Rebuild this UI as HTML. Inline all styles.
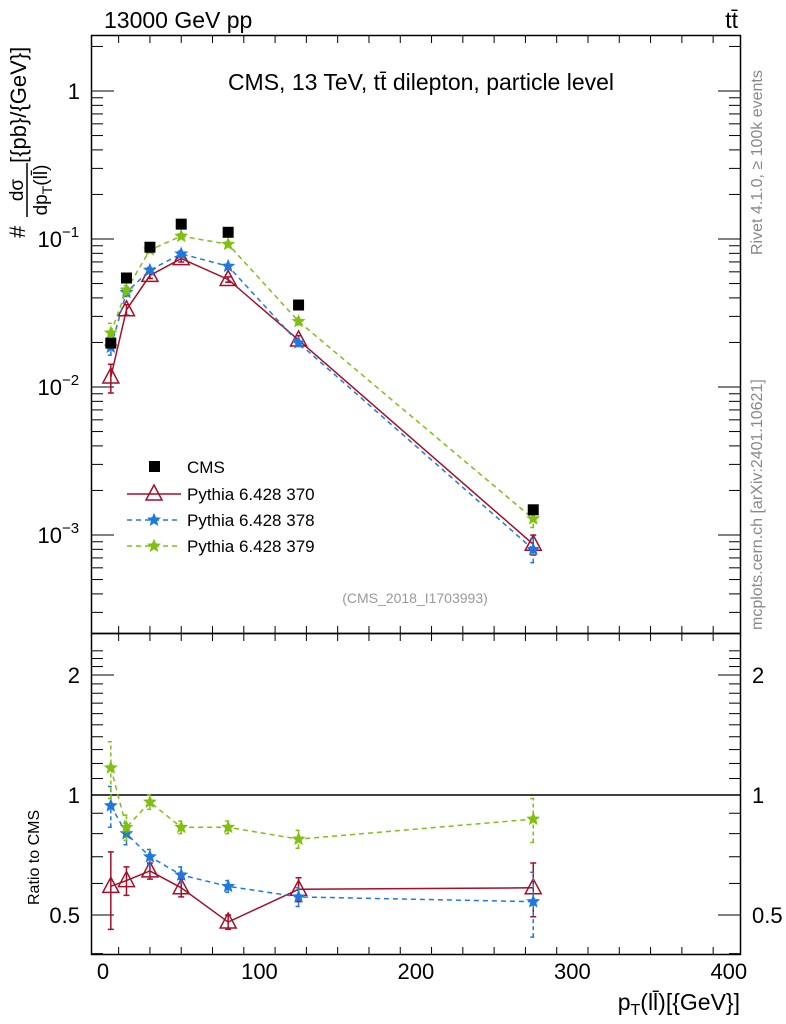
<!DOCTYPE html>
<html><head><meta charset="utf-8"><style>
html,body{margin:0;padding:0;background:#fff;}
svg{display:block;font-family:"Liberation Sans",sans-serif;}
</style></head><body>
<svg id="chart" width="786" height="1024" viewBox="0 0 786 1024" xmlns="http://www.w3.org/2000/svg">
<g id="frames">
<rect x="91.5" y="35.5" width="649" height="598" fill="none" stroke="#000" stroke-width="1.5"/>
<rect x="91.5" y="633.5" width="649" height="321" fill="none" stroke="#000" stroke-width="1.5"/>
</g>
<text x="104" y="28" font-size="23">13000 GeV pp</text>
<text x="738" y="28" font-size="23" text-anchor="end">tt̄</text>
<text x="421" y="90" font-size="23" text-anchor="middle">CMS, 13 TeV, tt̄ dilepton, particle level</text>
<text x="415" y="603" font-size="14" fill="#999" text-anchor="middle">(CMS_2018_I1703993)</text>
<text transform="translate(762,255) rotate(-90)" font-size="16" fill="#888">Rivet 4.1.0, ≥ 100k events</text>
<text transform="translate(762,630) rotate(-90)" font-size="16" fill="#888">mcplots.cern.ch [arXiv:2401.10621]</text>
<g font-size="22">
<text transform="translate(25,238) rotate(-90)">#</text>
<text transform="translate(23,190) rotate(-90)" font-size="19" text-anchor="middle">dσ</text>
<line x1="27" y1="217" x2="27" y2="163" stroke="#000" stroke-width="1.5"/>
<text transform="translate(47,190) rotate(-90)" font-size="19" text-anchor="middle">dp<tspan font-size="14" dy="5">T</tspan><tspan dy="-5">(ll̄)</tspan></text>
<text transform="translate(26,163) rotate(-90)">[{pb}/{GeV}]</text>
</g>
<text transform="translate(39,905) rotate(-90)" font-size="16">Ratio to CMS</text>
<text x="740" y="1010" font-size="23" text-anchor="end">p<tspan font-size="16" dy="5">T</tspan><tspan dy="-5">(ll̄)[{GeV}]</tspan></text>
<g id="axes"></g>
<g id="marks"></g>
<g id="legend"></g>
</svg>
<script>
const xBins = [5, 15, 30, 50, 80, 125, 275];
const cmsValues = [0.0198, 0.0545, 0.0880, 0.126, 0.111, 0.0358, 0.00148];
const ratio370 = [0.59, 0.61, 0.645, 0.585, 0.48, 0.58, 0.585];
const ratio370Err = [0.13, 0.05, 0.03, 0.03, 0.02, 0.04, 0.09];
const ratio378 = [0.94, 0.80, 0.70, 0.63, 0.59, 0.555, 0.54];
const ratio378Err = [0.11, 0.05, 0.03, 0.03, 0.02, 0.03, 0.10];
const ratio379 = [1.17, 0.83, 0.96, 0.83, 0.83, 0.775, 0.87];
const ratio379Err = [0.19, 0.06, 0.04, 0.03, 0.03, 0.04, 0.11];
const xTicks = [0, 100, 200, 300, 400];
const mainYTicks = [1, 0.1, 0.01, 0.001];
const mainYLabels = ["1", "10", "10", "10"];
const mainYExps = ["", "−1", "−2", "−3"];
const ratioYTicks = [0.5, 1, 2];
const ratioYLabels = ["0.5", "1", "2"];

const NS = "http://www.w3.org/2000/svg";
const X = v => 103 + v * 1.5645;
const Ym = v => 91 - Math.log10(v) * 148;
const Yr = v => 795 - Math.log10(v) * 398.6;
function mk(tag, attrs, parent) { const e = document.createElementNS(NS, tag); for (const k in attrs) e.setAttribute(k, attrs[k]); parent.appendChild(e); return e; }
const axes = document.getElementById('axes');
const marks = document.getElementById('marks');
const legend = document.getElementById('legend');

for (let v = -10; v <= 410; v += 20) {
  const x = X(v); if (x < 92 || x > 740) continue;
  const major = v % 100 === 0; const len = major ? 14 : 7;
  for (const [t, b] of [[36, 633], [634, 954]]) {
    const l1 = mk('line', {x1: x, x2: x, y1: b, y2: b - len, stroke: '#000', 'stroke-width': 1}, axes);
    
    
    const l2 = mk('line', {x1: x, x2: x, y1: t, y2: t + len, stroke: '#000', 'stroke-width': 1}, axes);
    
    
  }
}
xTicks.forEach(v => {
  const t = mk('text', {x: X(v), y: 979, 'font-size': 22, 'text-anchor': 'middle'}, axes);
  t.textContent = v;
  
  
});
for (let d = -4; d <= 0; d++) {
  for (let m = 1; m <= 9; m++) {
    const v = m * Math.pow(10, d); const y = Ym(v);
    if (y < 36 || y > 633) continue;
    const len = m === 1 ? 22 : 11;
    for (const [x0, s] of [[92, 1], [740, -1]]) {
      const l = mk('line', {x1: x0, x2: x0 + s * len, y1: y, y2: y, stroke: '#000', 'stroke-width': 1}, axes);
      
      
    }
  }
}
mainYTicks.forEach((v, i) => {
  const t = mk('text', {x: mainYExps[i] ? 62 : 80, y: Ym(v) + 8, 'font-size': 22, 'text-anchor': 'end'}, axes);
  t.textContent = mainYLabels[i];
  
  
  if (mainYExps[i]) {
    const e = mk('text', {x: 62, y: Ym(v) - 2, 'font-size': 15}, axes);
    e.textContent = mainYExps[i];
    
    
  }
});
for (let v = 0.4; v <= 2.4; v += 0.1) {
  const y = Yr(v); if (y < 634 || y > 954) continue;
  const r = Math.round(v * 10) / 10;
  const len = (r === 0.5 || r === 1 || r === 2) ? 22 : 11;
  for (const [x0, s] of [[92, 1], [740, -1]]) {
    const l = mk('line', {x1: x0, x2: x0 + s * len, y1: y, y2: y, stroke: '#000', 'stroke-width': 1}, axes);
    
    
  }
}
ratioYTicks.forEach((v, i) => {
  for (const [x, a] of [[80, 'end'], [752, 'start']]) {
    const t = mk('text', {x: x, y: Yr(v) + 8, 'font-size': 22, 'text-anchor': a}, axes);
    t.textContent = ratioYLabels[i];
    
    
  }
});
const refLine = mk('line', {x1: 92, x2: 740, y1: Yr(1), y2: Yr(1), stroke: '#000', 'stroke-width': 1.5}, axes);



function star(cx, cy, r, color, parent) {
  let p = '';
  for (let i = 0; i < 10; i++) { const a = -Math.PI / 2 + i * Math.PI / 5; const rr = i % 2 ? r * 0.45 : r; p += (i ? 'L' : 'M') + (cx + rr * Math.cos(a)).toFixed(1) + ',' + (cy + rr * Math.sin(a)).toFixed(1); }
  return mk('path', {d: p + 'Z', fill: color, stroke: color, 'stroke-width': 1}, parent);
}
function tri(cx, cy, color, parent) {
  return mk('path', {d: `M${cx},${cy - 9}L${cx + 8},${cy + 6}L${cx - 8},${cy + 6}Z`, fill: 'none', stroke: color, 'stroke-width': 1.5}, parent);
}
const series = [
  {name: 'pythia-370', ratio: ratio370, err: ratio370Err, color: '#a50f28', dash: '', marker: 'tri', label: 'Pythia 6.428 370'},
  {name: 'pythia-378', ratio: ratio378, err: ratio378Err, color: '#1f78e0', dash: '5,4', marker: 'star', label: 'Pythia 6.428 378'},
  {name: 'pythia-379', ratio: ratio379, err: ratio379Err, color: '#7fc010', dash: '5,4', marker: 'star', label: 'Pythia 6.428 379'}
];
series.forEach(s => {
  const g = mk('g', {}, marks);
  
  
  const mainPts = xBins.map((x, i) => [X(x), Ym(cmsValues[i] * s.ratio[i])]);
  const ratPts = xBins.map((x, i) => [X(x), Yr(s.ratio[i])]);
  for (const [pts, isR] of [[mainPts, false], [ratPts, true]]) {
    const pl = mk('polyline', {points: pts.map(p => p.join(',')).join(' '), fill: 'none', stroke: s.color, 'stroke-width': 1.5, 'stroke-dasharray': s.dash}, g);
    
    
    pts.forEach((p, i) => {
      const r = s.ratio[i], e = s.err[i];
      const lo = isR ? Yr(r - e) : Ym(cmsValues[i] * (r - e));
      const hi = isR ? Yr(r + e) : Ym(cmsValues[i] * (r + e));
      const eb = mk('path', {d: `M${p[0]},${lo}L${p[0]},${hi}M${p[0] - 3},${lo}L${p[0] + 3},${lo}M${p[0] - 3},${hi}L${p[0] + 3},${hi}`, stroke: s.color, 'stroke-width': 1.5, fill: 'none', 'stroke-dasharray': s.dash ? '4,3' : ''}, g);
      
      
      const m = s.marker === 'tri' ? tri(p[0], p[1], s.color, g) : star(p[0], p[1], 6, s.color, g);
      
      
    });
  }
});
const cg = mk('g', {}, marks);


xBins.forEach((x, i) => {
  const r = mk('rect', {x: X(x) - 5.5, y: Ym(cmsValues[i]) - 5.5, width: 11, height: 11, fill: '#000'}, cg);
  
  
});
const lr = mk('rect', {x: 149, y: 461, width: 11, height: 11, fill: '#000'}, legend);


const lt0 = mk('text', {x: 187, y: 473, 'font-size': 17}, legend);
lt0.textContent = 'CMS';


series.forEach((s, i) => {
  const y = 494 + i * 26;
  const l = mk('line', {x1: 127, x2: 181, y1: y, y2: y, stroke: s.color, 'stroke-width': 1.5, 'stroke-dasharray': s.dash}, legend);
  
  
  const m = s.marker === 'tri' ? tri(154, y, s.color, legend) : star(154, y, 6, s.color, legend);
  
  
  const t = mk('text', {x: 187, y: y + 6, 'font-size': 17}, legend);
  t.textContent = s.label;
  
  
});
</script>
</body></html>
